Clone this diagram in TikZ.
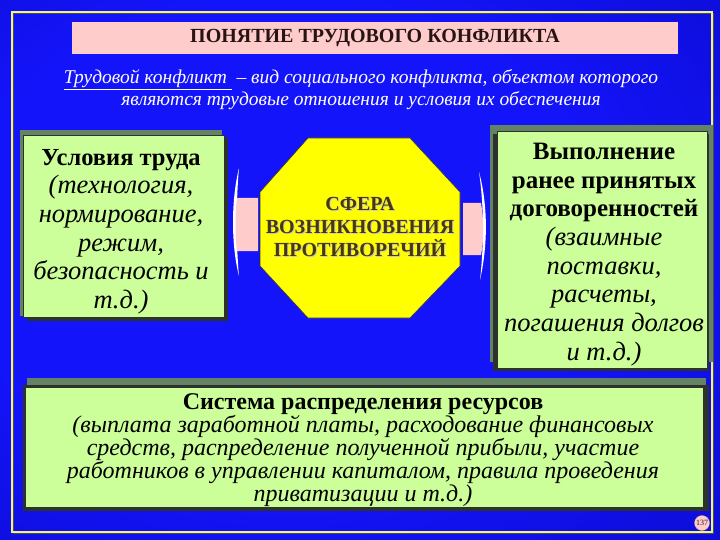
\documentclass[tikz,border=0pt]{standalone}
\usepackage{fontspec}
\setmainfont{Liberation Serif}
\usetikzlibrary{calc}
\definecolor{bgin}{RGB}{20,20,250}
\definecolor{bgmid}{RGB}{10,10,205}
\definecolor{bgout}{RGB}{0,0,105}
\definecolor{pinkc}{RGB}{255,204,204}
\definecolor{greenc}{RGB}{204,255,153}
\definecolor{shadowc}{RGB}{100,130,100}
\definecolor{edgec}{RGB}{45,50,45}
\definecolor{octc}{RGB}{255,255,0}
\definecolor{octtext}{RGB}{72,56,8}
\definecolor{framec}{RGB}{240,240,150}
\definecolor{titletext}{RGB}{40,20,20}
\pgfdeclareradialshading{bgshade}{\pgfpoint{-8bp}{4bp}}{%
  color(0bp)=(bgin); color(22bp)=(bgin); color(45bp)=(bgmid); color(75bp)=(bgout)}
\begin{document}
\begin{tikzpicture}[x=1pt,y=-1pt,
  greenbox/.style={fill=greenc, draw=edgec, line width=1pt, inner sep=0pt},
  boxtext/.style={align=center, text=black, inner sep=0pt},
  shadowbox/.style={fill=shadowc},
  darkedge/.style={fill=edgec},
  pinkarrow/.style={fill=pinkc},
  crescent/.style={fill=white},
]
\useasboundingbox (0,0) rectangle (720,540);
\shade[shading=bgshade] (0,0) rectangle (720,540);
\draw[black!70, line width=1.5pt] (13.5,13.5) rectangle (713.5,533.5);
\draw[framec, line width=2pt] (12,12) rectangle (712,532);

% title
\node[fill=pinkc, minimum width=606pt, minimum height=32pt, inner sep=0pt,
      text=titletext, font=\fontsize{20}{22}\selectfont\bfseries] (title) at (375,38)
  {ПОНЯТИЕ ТРУДОВОГО КОНФЛИКТА};

% definition
\node[text=white, align=center, font=\fontsize{19.5}{22}\selectfont\itshape] (def) at (361,90)
  {\underline{Трудовой конфликт }~– вид социального конфликта, объектом которого\\
   являются трудовые отношения и условия их обеспечения};

% left box
\fill[shadowbox] (20,130) rectangle (222,316);
\fill[darkedge] (27,138) rectangle (228,321);
\node[greenbox, minimum width=201pt, minimum height=182pt] (left) at (123.5,226.5) {};
\node[boxtext, font=\fontsize{26.5}{28.6}\selectfont] (lefttext) at (121,231.5)
  {{\fontsize{24.5}{28.6}\selectfont\textbf{Условия труда}}\\
   \textit{(технология,}\\ \textit{нормирование,}\\ \textit{режим,}\\ \textit{безопасность и}\\ \textit{т.д.)}};

% right box
\fill[shadowbox] (490,125) rectangle (713,362);
\fill[darkedge] (493,134) rectangle (709,371);
\node[greenbox, minimum width=210pt, minimum height=236pt] (right) at (602,250) {};
\node[boxtext, font=\fontsize{26.5}{28.7}\selectfont] (righttext) at (604,254.5)
  {{\fontsize{25}{28.7}\selectfont\textbf{Выполнение}}\\ {\fontsize{25}{28.7}\selectfont\textbf{ранее принятых}}\\
   {\fontsize{25}{28.7}\selectfont\textbf{договоренностей}}\\
   \textit{(взаимные}\\ \textit{поставки,}\\ \textit{расчеты,}\\ \textit{погашения долгов}\\ \textit{и т.д.)}};

% bottom box
\fill[shadowbox] (27,378) rectangle (706,505);
\fill[darkedge] (23,385) rectangle (709,511);
\node[greenbox, minimum width=678pt, minimum height=120pt] (bottom) at (364,447) {};
\node[boxtext, font=\fontsize{24}{23}\selectfont] (bottomtext) at (363,450)
  {\textbf{Система распределения ресурсов}\\
   \textit{(выплата заработной платы, расходование финансовых}\\
   \textit{средств, распределение полученной прибыли, участие}\\
   \textit{работников в управлении капиталом, правила проведения}\\
   \textit{приватизации и т.д.)}};

% octagon
\filldraw[fill=octc, draw=black!80, line width=0.6pt]
  (308,138) -- (410,138) -- (460,192) -- (460,266) -- (410,318) -- (308,318) -- (260,266) -- (260,192) -- cycle;
\node[align=center, text=black!22, font=\fontsize{20}{23}\selectfont\bfseries] at (361,228)
  {СФЕРА\\ ВОЗНИКНОВЕНИЯ\\ ПРОТИВОРЕЧИЙ};
\node[align=center, text=octtext, font=\fontsize{20}{23}\selectfont\bfseries] (oct) at (360,227)
  {СФЕРА\\ ВОЗНИКНОВЕНИЯ\\ ПРОТИВОРЕЧИЙ};

% left connector (pink block with curved end)
\fill[crescent] (239,168) .. controls (231,200) and (231,245) .. (239,276)
  .. controls (236,245) and (236,200) .. cycle;
\fill[pinkarrow] (237,198) .. controls (235,215) and (235,235) .. (237,251) -- (258,251) -- (258,198) -- cycle;
\coordinate (lc) at (258,224);

% right connector
\fill[crescent] (479,172) .. controls (488,205) and (488,245) .. (480,280)
  .. controls (484,245) and (484,205) .. cycle;
\fill[pinkarrow] (463,203) -- (481,203) .. controls (484,220) and (484,240) .. (481,255) -- (463,255) -- cycle;
\coordinate (rc) at (463,229);

% page number
\node[circle, fill=pinkc, draw=pinkc!80!black, line width=0.3pt, inner sep=0pt, minimum size=15pt,
      text=titletext, font=\fontsize{8}{8}\selectfont] (pg) at (702,523) {137};
\end{tikzpicture}
\end{document}
